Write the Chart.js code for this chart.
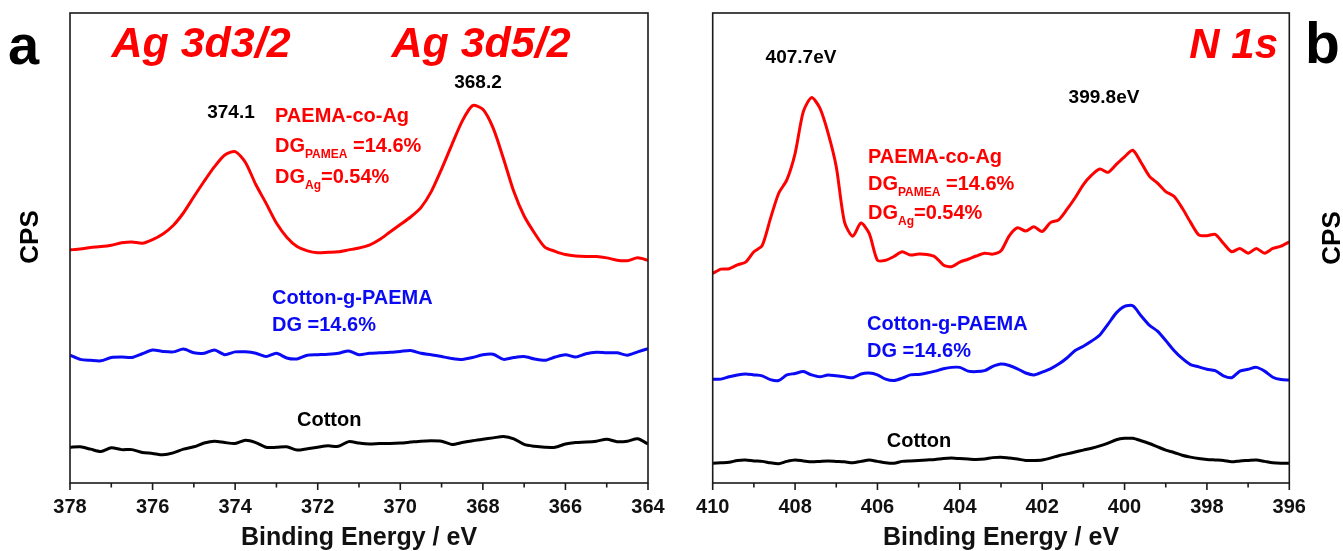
<!DOCTYPE html>
<html><head><meta charset="utf-8">
<script src="https://cdn.jsdelivr.net/npm/chart.js@4.4.1/dist/chart.umd.min.js"></script>
<style>
html,body{margin:0;padding:0;background:#fff;}
#wrap{position:relative;width:1343px;height:551px;overflow:hidden;background:#fff;}
canvas{position:absolute;top:0;}
</style></head><body>
<div id="wrap">
<canvas id="ca" width="680" height="551" style="left:0px"></canvas>
<canvas id="cb" width="663" height="551" style="left:680px"></canvas>
</div>
<script>
// ---------- Panel a: Ag 3d (binding energy, eV) ----------
const energyA = [378,377.75,377.5,377.25,377,376.75,376.5,376.25,376,375.75,375.5,375.25,375,374.75,374.5,374.25,374,373.75,373.5,373.25,373,372.75,372.5,372.25,372,371.75,371.5,371.25,371,370.75,370.5,370.25,370,369.75,369.5,369.25,369,368.75,368.5,368.25,368,367.75,367.5,367.25,367,366.75,366.5,366.25,366,365.75,365.5,365.25,365,364.75,364.5,364.25,364];
const agRed = [49.6,49.8,50.1,50.3,50.6,51.1,51.3,51.0,51.8,53.0,54.8,57.5,60.9,64.2,67.3,69.8,70.5,68.2,63.5,59.5,55.3,52.3,50.3,49.4,49.0,49.1,49.2,49.6,50.0,50.6,51.8,53.4,55.0,56.6,58.6,62.0,66.8,72.0,77.0,80.3,79.5,75.5,69.0,62.0,56.8,53.2,50.2,49.3,48.6,48.3,48.2,48.2,47.9,47.4,47.3,47.9,47.4];
const agBlue = [27.2,26.3,26.1,26.0,26.7,26.8,26.7,27.5,28.3,28.0,27.9,28.5,27.7,27.6,28.3,27.3,27.9,27.9,27.6,26.9,27.6,26.6,26.4,27.2,27.3,27.4,27.6,28.1,27.3,27.6,27.7,27.8,28.0,28.2,27.6,27.3,26.9,26.5,26.3,26.7,27.3,27.4,26.3,26.7,26.9,26.4,26.1,26.8,27.3,26.8,27.5,27.8,27.7,27.7,27.2,27.9,28.6];
const agBlack = [7.6,7.7,7.2,6.7,7.5,7.1,7.1,6.5,6.3,6.0,6.4,7.2,7.7,8.5,8.9,8.6,8.4,9.1,8.6,7.6,7.6,7.7,7.0,7.3,7.6,7.9,7.8,8.8,8.5,8.3,8.4,8.4,8.5,8.7,8.9,9.0,8.9,8.2,8.6,9.0,9.3,9.6,9.9,9.4,8.2,7.8,7.6,7.6,8.3,8.6,8.7,8.9,9.3,8.8,8.9,9.4,8.3];
const rangeA = [364, 378];

// ---------- Panel b: N 1s ----------
const energyB = [410,409.8,409.6,409.4,409.2,409,408.8,408.6,408.4,408.2,408,407.8,407.6,407.4,407.2,407,406.8,406.6,406.4,406.2,406,405.8,405.6,405.4,405.2,405,404.8,404.6,404.4,404.2,404,403.8,403.6,403.4,403.2,403,402.8,402.6,402.4,402.2,402,401.8,401.6,401.4,401.2,401,400.8,400.6,400.4,400.2,400,399.8,399.6,399.4,399.2,399,398.8,398.6,398.4,398.2,398,397.8,397.6,397.4,397.2,397,396.8,396.6,396.4,396.2,396];
const nRed = [44.6,45.5,45.6,46.4,47.0,49.2,50.5,56.2,61.6,64.5,70.1,79.0,82.0,79.8,74.5,67.3,55.5,52.5,55.3,53.1,47.4,47.4,48.2,49.2,48.5,48.7,48.6,48.1,46.4,46.0,47.0,47.6,48.3,48.9,48.7,49.4,52.6,54.3,53.6,54.5,53.5,55.4,56.0,58.2,60.7,63.5,65.5,66.8,66.1,67.8,69.4,70.8,68.2,65.3,63.8,62.0,61.0,58.5,55.5,52.8,52.6,52.9,51.0,49.2,49.9,48.9,49.9,48.9,49.9,50.4,51.3];
const nBlue = [22.1,22.1,22.6,23.0,23.2,23.0,22.8,22.0,21.8,23.0,23.3,23.7,23.0,22.6,23.0,22.8,22.6,22.4,23.2,23.4,23.0,22.1,21.8,22.3,23.0,23.1,23.4,23.8,24.3,24.6,24.6,23.8,23.7,23.9,24.8,25.3,25.0,24.3,23.4,23.0,23.6,24.3,25.3,26.6,28.2,29.1,30.2,31.5,33.8,36.2,37.6,37.7,35.6,33.6,32.3,30.3,28.2,26.5,25.2,24.7,24.2,23.9,22.8,22.4,23.8,24.2,24.6,23.8,22.5,22.0,21.9];
const nBlack = [4.2,4.3,4.4,4.8,4.9,4.7,4.6,4.3,4.1,4.6,4.9,4.7,4.5,4.6,4.7,4.6,4.5,4.3,4.6,4.9,4.6,4.3,4.2,4.6,4.7,4.8,4.9,5.0,5.2,5.3,5.2,5.1,5.0,5.1,5.4,5.5,5.3,5.1,4.8,4.8,4.9,5.3,5.8,6.2,6.6,7.0,7.4,7.9,8.5,9.2,9.5,9.5,9.0,8.4,7.7,7.0,6.5,5.9,5.5,5.2,5.0,4.9,4.8,4.5,4.7,4.8,4.9,4.6,4.3,4.2,4.2];
const rangeB = [396, 410];

const FAM = '"Liberation Sans", Arial, Helvetica, sans-serif';
const RED = '#ff0000', BLUE = '#0a0af5', BLACK = '#000000';

function xy(xs, ys){ return xs.map((x,i)=>({x:x, y:ys[i]})); }

const framePlugin = {
  id:'frame',
  afterDraw(chart){
    const ctx = chart.ctx, a = chart.chartArea, x = chart.scales.x;
    ctx.save();
    ctx.strokeStyle = '#1a1a1a';
    ctx.lineWidth = 1.6;
    ctx.strokeRect(a.left, a.top, a.right - a.left, a.bottom - a.top);
    x.ticks.forEach(t=>{
      const px = x.getPixelForValue(t.value);
      const len = (Math.round(t.value) % 2 === 0) ? 7 : 4.5;
      ctx.beginPath(); ctx.moveTo(px, a.bottom); ctx.lineTo(px, a.bottom + len); ctx.stroke();
    });
    ctx.restore();
  }
};

function drawRich(ctx, x, y, parts, color, align){
  ctx.save();
  ctx.fillStyle = color;
  ctx.textBaseline = 'alphabetic';
  ctx.textAlign = 'left';
  let total = 0;
  parts.forEach(p=>{ ctx.font = (p.style||'bold') + ' ' + p.size + 'px ' + FAM; total += ctx.measureText(p.t).width; });
  let cx = x;
  if (align === 'center') cx = x - total/2;
  if (align === 'right') cx = x - total;
  parts.forEach(p=>{
    ctx.font = (p.style||'bold') + ' ' + p.size + 'px ' + FAM;
    ctx.fillText(p.t, cx, y + (p.dy||0));
    cx += ctx.measureText(p.t).width;
  });
  ctx.restore();
}
function drawVertical(ctx, x, y, text, size){
  ctx.save();
  ctx.translate(x, y); ctx.rotate(-Math.PI/2);
  ctx.fillStyle = BLACK; ctx.font = 'bold ' + size + 'px ' + FAM;
  ctx.textAlign = 'center'; ctx.textBaseline = 'middle';
  ctx.fillText(text, 0, 0);
  ctx.restore();
}

const textPlugin = {
  id:'texts',
  afterDraw(chart, args, opts){
    const ctx = chart.ctx;
    (opts.items || []).forEach(it=>{
      if (it.vertical) drawVertical(ctx, it.x, it.y, it.t, it.size);
      else drawRich(ctx, it.x, it.y, it.parts, it.color, it.align);
    });
  }
};

function makeChart(id, energies, reds, blues, blacks, range, padL, padR, items){
  return new Chart(document.getElementById(id), {
    type:'line',
    data:{ datasets:[
      {data: xy(energies, reds), borderColor: RED, borderWidth: 3, pointRadius: 0, tension: 0.25, fill:false},
      {data: xy(energies, blues), borderColor: BLUE, borderWidth: 3, pointRadius: 0, tension: 0.25, fill:false},
      {data: xy(energies, blacks), borderColor: BLACK, borderWidth: 3, pointRadius: 0, tension: 0.25, fill:false}
    ]},
    options:{
      responsive:false, animation:false, devicePixelRatio:1,
      layout:{padding:{left:padL, right:padR, top:13, bottom:0}},
      plugins:{ legend:{display:false}, tooltip:{enabled:false}, texts:{items: items} },
      scales:{
        x:{ type:'linear', reverse:true, min: range[0], max: range[1],
            grid:{display:false, drawTicks:false}, border:{display:false},
            ticks:{ stepSize:1, autoSkip:false, maxRotation:0, padding:12, color:'#111',
                    font:{family:FAM, size:20, weight:'bold'},
                    callback:(v)=> (Math.round(v) % 2 === 0) ? String(v) : '' },
            title:{ display:true, text:'Binding Energy / eV', color:'#111',
                    font:{family:FAM, size:25, weight:'bold', lineHeight:1}, padding:{top:0,bottom:0} },
            afterFit(s){ s.height = 68; } },
        y:{ display:false, min:0, max:100 }
      }
    },
    plugins:[framePlugin, textPlugin]
  });
}

const itemsA = [
  {parts:[{t:'a', size:56}], x:8, y:64, color:BLACK},
  {vertical:true, t:'CPS', x:31, y:237, size:26},
  {parts:[{t:'Ag 3d3/2', size:43, style:'italic bold'}], x:201, y:57, color:RED, align:'center'},
  {parts:[{t:'Ag 3d5/2', size:43, style:'italic bold'}], x:481, y:57, color:RED, align:'center'},
  {parts:[{t:'374.1', size:19}], x:231, y:118, color:BLACK, align:'center'},
  {parts:[{t:'368.2', size:19}], x:478, y:88, color:BLACK, align:'center'},
  {parts:[{t:'PAEMA-co-Ag', size:20}], x:275, y:122, color:RED},
  {parts:[{t:'DG', size:20},{t:'PAMEA', size:12, dy:6},{t:' =14.6%', size:20}], x:275, y:152, color:RED},
  {parts:[{t:'DG', size:20},{t:'Ag', size:12, dy:6},{t:'=0.54%', size:20}], x:275, y:183, color:RED},
  {parts:[{t:'Cotton-g-PAEMA', size:20}], x:272, y:304, color:BLUE},
  {parts:[{t:'DG =14.6%', size:20}], x:272, y:331, color:BLUE},
  {parts:[{t:'Cotton', size:20}], x:297, y:426, color:BLACK}
];
const itemsB = [
  {parts:[{t:'b', size:57}], x:625, y:63, color:BLACK},
  {vertical:true, t:'CPS', x:653, y:238, size:26},
  {parts:[{t:'N 1s', size:42, style:'italic bold'}], x:598, y:58, color:RED, align:'right'},
  {parts:[{t:'407.7eV', size:19}], x:121, y:63, color:BLACK, align:'center'},
  {parts:[{t:'399.8eV', size:19}], x:424, y:103, color:BLACK, align:'center'},
  {parts:[{t:'PAEMA-co-Ag', size:20}], x:188, y:163, color:RED},
  {parts:[{t:'DG', size:20},{t:'PAMEA', size:12, dy:6},{t:' =14.6%', size:20}], x:188, y:190, color:RED},
  {parts:[{t:'DG', size:20},{t:'Ag', size:12, dy:6},{t:'=0.54%', size:20}], x:188, y:219, color:RED},
  {parts:[{t:'Cotton-g-PAEMA', size:20}], x:187, y:330, color:BLUE},
  {parts:[{t:'DG =14.6%', size:20}], x:187, y:357, color:BLUE},
  {parts:[{t:'Cotton', size:20}], x:239, y:447, color:BLACK, align:'center'}
];

makeChart('ca', energyA, agRed, agBlue, agBlack, rangeA, 70, 32, itemsA);
makeChart('cb', energyB, nRed, nBlue, nBlack, rangeB, 32.7, 53.7, itemsB);
</script>
</body></html>
